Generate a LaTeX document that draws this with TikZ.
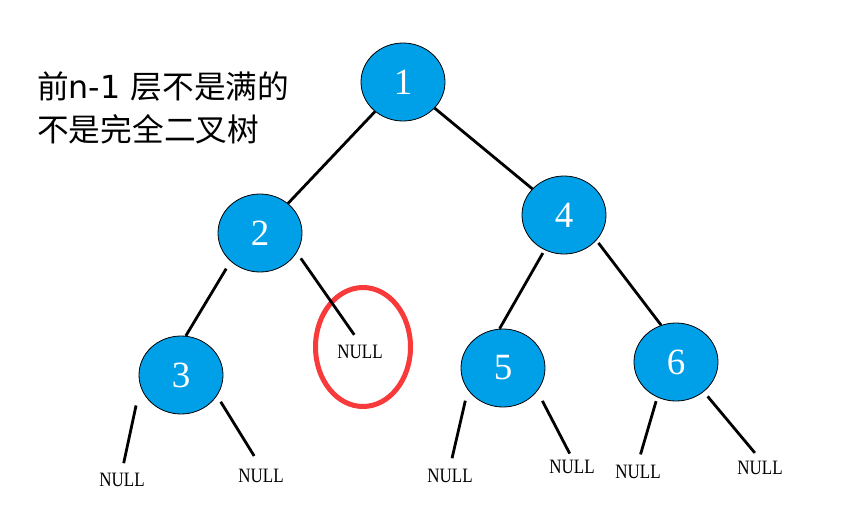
\documentclass[tikz,border=0pt]{standalone}
\usepackage{fontspec}
\setmainfont{Liberation Serif}
\newfontfamily\cjkfont{Noto Sans CJK SC}
\newfontfamily\latinsans{DejaVu Sans}
\usetikzlibrary{shapes.geometric}
\definecolor{nodeblue}{RGB}{0,160,232}
\definecolor{ringred}{RGB}{248,58,58}
\begin{document}
\begin{tikzpicture}[x=1pt,y=-1pt,
    tnode/.style={ellipse,draw=black,line width=0.8pt,fill=nodeblue,minimum width=84pt,minimum height=78pt,inner sep=0pt,text=white,font=\fontsize{37}{37}\selectfont},
    nullnode/.style={inner sep=2pt,font=\fontsize{17}{17}\selectfont},
    edge/.style={line width=2.8pt},
    ring/.style={ellipse,draw=ringred,line width=5pt,minimum width=95pt,minimum height=119pt},
    caption/.style={anchor=west,inner sep=0pt,font=\cjkfont\fontsize{31.7}{31.7}\selectfont}]
    \useasboundingbox[fill=white] (0,0) rectangle (863,517);
    % tree nodes
    \node[tnode] (n1) at (403,82) {1};
    \node[tnode] (n2) at (260,233) {2};
    \node[tnode] (n4) at (564,215) {4};
    \node[tnode] (n3) at (181,375) {3};
    \node[tnode] (n5) at (503,368) {5};
    \node[tnode] (n6) at (676,362) {6};
    % empty children
    \node[nullnode] (nlm) at (360,352) {\scalebox{1}[1.2]{NULL}};
    \node[nullnode] (nl1) at (122,480) {\scalebox{1}[1.2]{NULL}};
    \node[nullnode] (nl2) at (261,476) {\scalebox{1}[1.2]{NULL}};
    \node[nullnode] (nl3) at (450,476) {\scalebox{1}[1.2]{NULL}};
    \node[nullnode] (nl4) at (572,467) {\scalebox{1}[1.2]{NULL}};
    \node[nullnode] (nl5) at (638,472) {\scalebox{1}[1.2]{NULL}};
    \node[nullnode] (nl6) at (760,468) {\scalebox{1}[1.2]{NULL}};
    \node[ring] (mark) at (363,347) {};
    % edges
    \draw[edge] (n1) -- (n2);
    \draw[edge] (n1) -- (n4);
    \draw[edge,shorten <=8.5pt] (n2.224) -- (n3.83);
    \draw[edge,shorten <=7pt,shorten >=10pt] (n2.-28) -- (nlm.north);
    \draw[edge,shorten <=3.5pt] (n4.241) -- (n5.95);
    \draw[edge,shorten <=3.3pt] (n4.-38) -- (n6.112);
    \draw[edge,shorten <=20pt,shorten >=8pt] (n3.195) -- (nl1.north);
    \draw[edge,shorten <=7pt,shorten >=13pt] (n3.-30) -- (nl2.north);
    \draw[edge,shorten <=11pt,shorten >=9pt] (n5.212) -- (nl3.north);
    \draw[edge,shorten <=11pt,shorten >=5pt] (n5.-34) -- (nl4.north);
    \draw[edge,shorten <=4pt,shorten >=9pt] (n6.242) -- (nl5.north);
    \draw[edge,shorten <=6pt,shorten >=8pt] (n6.-47) -- (nl6.north);
    % caption
    \node[caption] (t1) at (37,87) {前{\latinsans n-1 }层不是满的};
    \node[caption] (t2) at (37,129) {不是完全二叉树};
\end{tikzpicture}
\end{document}
